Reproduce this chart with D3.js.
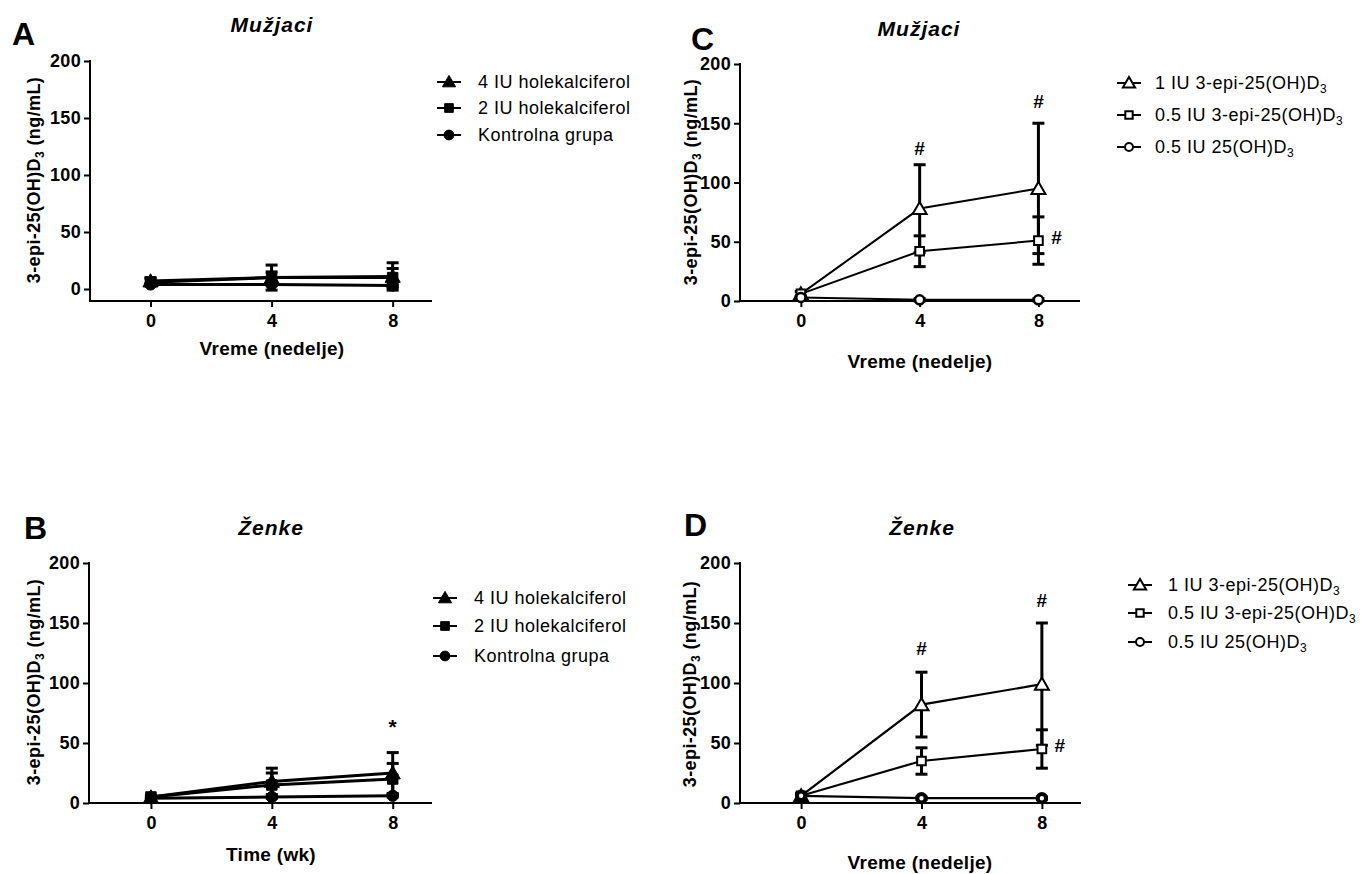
<!DOCTYPE html>
<html><head><meta charset="utf-8">
<script src="https://cdn.jsdelivr.net/npm/d3@7"></script>
<style>
body{margin:0;background:#fff}
svg{display:block}
text{font-family:"Liberation Sans",Arial,Helvetica,sans-serif;fill:#000}
</style>
</head><body>
<svg id="chart" width="1369" height="874"></svg>
<script>
// ---------- data ----------
const weeks = [0, 4, 8];
const xTickValues = [0, 4, 8];
const yTickValues = [0, 50, 100, 150, 200];

const legendHol = ["4 IU holekalciferol", "2 IU holekalciferol", "Kontrolna grupa"];
const legendEpi = ["1 IU 3-epi-25(OH)D_3", "0.5 IU 3-epi-25(OH)D_3", "0.5 IU 25(OH)D_3"];

// Panel A (Mužjaci, holekalciferol)
const a4IU = [7, 10, 11],  a4IUsd = [3, 11, 12];
const a2IU = [6, 10, 10],  a2IUsd = [3, 5, 8];
const aCtrl = [4, 4, 3],   aCtrlsd = [1, 1, 2];
// Panel B (Ženke, holekalciferol)
const b4IU = [5, 18, 25],  b4IUsd = [1, 11, 17];
const b2IU = [5, 15, 20],  b2IUsd = [1, 10, 13];
const bCtrl = [4, 5, 6],   bCtrlsd = [1, 1, 1];
// Panel C (Mužjaci, 3-epi)
const c1IU = [6, 78, 95],  c1IUsd = [2, 37, 55];
const c05epi = [6, 42, 51], c05episd = [2, 13, 20];
const c05d3 = [3, 1, 1],   c05d3sd = [1, 1, 1];
// Panel D (Ženke, 3-epi)
const d1IU = [6, 82, 99],  d1IUsd = [2, 27, 51];
const d05epi = [6, 35, 45], d05episd = [2, 11, 16];
const d05d3 = [6, 4, 4],   d05d3sd = [1, 1, 1];

// significance marks: week, value, label, side
const annotB = [{week: 8, value: 63, label: "*", side: "top"}];
const annotC = [{week: 4, value: 129, label: "#", side: "top"}, {week: 8, value: 169, label: "#", side: "top"}, {week: 8, value: 54, label: "#", side: "right"}];
const annotD = [{week: 4, value: 129, label: "#", side: "top"}, {week: 8, value: 169, label: "#", side: "top"}, {week: 8, value: 48, label: "#", side: "right"}];

// ---------- drawing ----------
const svg = d3.select("#chart");
const symbols = [d3.symbolTriangle, d3.symbolSquare, d3.symbolCircle];

function addSubText(sel, label, subSize) {
  const parts = label.split("_");
  sel.append("tspan").text(parts[0]);
  if (parts.length > 1) {
    sel.append("tspan").attr("dy", 4).attr("font-size", subSize).text(parts[1]);
  }
}

function panel(cfg) {
  const g = svg.append("g");
  const x = d3.scaleLinear().domain(cfg.xDomain).range([cfg.left, cfg.right]);
  const y = d3.scaleLinear().domain([0, 200]).range([cfg.y0, cfg.y200]);

  // y axis
  const yAx = g.append("g").attr("transform", `translate(${cfg.left},0)`)
    .call(d3.axisLeft(y).tickValues(yTickValues).tickSize(6).tickPadding(3).tickFormat(d3.format("d")));
  yAx.select(".domain").remove();
  yAx.selectAll(".tick line").attr("stroke", "#000").attr("stroke-width", 2);
  yAx.selectAll(".tick text").attr("font-size", 18).attr("font-weight", "bold")
    .attr("font-family", "Liberation Sans, Arial, sans-serif").attr("letter-spacing", 0.3);
  g.append("line").attr("x1", cfg.left).attr("x2", cfg.left)
    .attr("y1", y(200) - 1).attr("y2", cfg.xAxisY + 1).attr("stroke", "#000").attr("stroke-width", 2);

  // x axis
  const xAx = g.append("g").attr("transform", `translate(0,${cfg.xAxisY})`)
    .call(d3.axisBottom(x).tickValues(xTickValues).tickSize(6).tickPadding(7).tickFormat(d3.format("d")));
  xAx.select(".domain").attr("stroke", "#000").attr("stroke-width", 2)
    .attr("d", `M${cfg.left},0H${cfg.right}`);
  xAx.selectAll(".tick line").attr("stroke", "#000").attr("stroke-width", 2);
  xAx.selectAll(".tick text").attr("font-size", 18).attr("font-weight", "bold")
    .attr("font-family", "Liberation Sans, Arial, sans-serif");

  // titles
  g.append("text").attr("x", cfg.letterX).attr("y", cfg.letterY)
    .attr("font-size", 32).attr("font-weight", "bold").text(cfg.letter);
  g.append("text").attr("x", cfg.titleX).attr("y", cfg.titleY).attr("text-anchor", "middle")
    .attr("font-size", 21).attr("font-weight", "bold").attr("font-style", "italic")
    .attr("letter-spacing", 1).text(cfg.title);
  const yt = g.append("text").attr("transform", `translate(${cfg.yTitleX},${cfg.yTitleY}) rotate(-90)`)
    .attr("text-anchor", "middle").attr("font-size", 18).attr("font-weight", "bold")
    .attr("letter-spacing", 0.4);
  yt.append("tspan").text("3-epi-25(OH)D");
  yt.append("tspan").attr("dy", 4).attr("font-size", 12).text("3");
  yt.append("tspan").attr("dy", -4).text(" (ng/mL)");
  g.append("text").attr("x", cfg.xTitleX).attr("y", cfg.xTitleY).attr("text-anchor", "middle")
    .attr("font-size", 19).attr("font-weight", "bold").attr("letter-spacing", 0.3).text(cfg.xTitle);

  // series
  const line = d3.line().x(d => x(d.w)).y(d => y(d.v));
  cfg.series.forEach((s, i) => {
    const pts = weeks.map((w, k) => ({w, v: s.values[k], e: s.sd[k]}));
    const sg = g.append("g");
    sg.append("path").datum(pts).attr("d", line).attr("fill", "none")
      .attr("stroke", "#000").attr("stroke-width", cfg.lineW);
    pts.forEach(p => {
      if (p.e > 0) {
        sg.append("line").attr("x1", x(p.w)).attr("x2", x(p.w))
          .attr("y1", y(p.v - p.e)).attr("y2", y(p.v + p.e))
          .attr("stroke", "#000").attr("stroke-width", 3);
        [p.v - p.e, p.v + p.e].forEach(val => {
          sg.append("line").attr("x1", x(p.w) - 6).attr("x2", x(p.w) + 6)
            .attr("y1", y(val)).attr("y2", y(val)).attr("stroke", "#000").attr("stroke-width", 3);
        });
      }
    });
    sg.selectAll("path.m").data(pts).join("path").attr("class", "m")
      .attr("transform", d => `translate(${x(d.w)},${y(d.v) + (i === 0 ? 1.5 : 0)})`)
      .attr("d", d3.symbol().type(symbols[i]).size(cfg.symSize[i]))
      .attr("fill", cfg.open ? "#fff" : "#000").attr("stroke", "#000")
      .attr("stroke-width", cfg.open ? cfg.symStroke[i] : 1);
  });

  // annotations
  (cfg.annot || []).forEach(a => {
    const ax = x(a.week) + (a.side === "right" ? 18 : 0);
    g.append("text").attr("x", ax).attr("y", y(a.value) + 7).attr("text-anchor", "middle")
      .attr("font-size", a.label === "*" ? 21 : 19).attr("font-weight", "bold").text(a.label);
  });

  // legend
  cfg.legend.forEach((lab, i) => {
    const ly = cfg.legY[i];
    g.append("line").attr("x1", cfg.legX0).attr("x2", cfg.legX1).attr("y1", ly).attr("y2", ly)
      .attr("stroke", "#000").attr("stroke-width", 2);
    g.append("path").attr("transform", `translate(${(cfg.legX0 + cfg.legX1) / 2},${ly + (i === 0 ? 1 : 0)})`)
      .attr("d", d3.symbol().type(symbols[i]).size(cfg.legSym[i]))
      .attr("fill", cfg.open ? "#fff" : "#000").attr("stroke", "#000").attr("stroke-width", cfg.open ? 2 : 1);
    const t = g.append("text").attr("x", cfg.legTextX).attr("y", ly + 6)
      .attr("font-size", 18).attr("letter-spacing", 0.5);
    addSubText(t, lab, 12);
  });
}

panel({
  letter: "A", letterX: 12, letterY: 45, title: "Mužjaci", titleX: 272, titleY: 32,
  left: 90, right: 432, xDomain: [-2, 9.3], y0: 289, y200: 61, xAxisY: 301,
  yTitleX: 40, yTitleY: 180, xTitle: "Vreme (nedelje)", xTitleX: 272, xTitleY: 355,
  series: [{values: a4IU, sd: a4IUsd}, {values: a2IU, sd: a2IUsd}, {values: aCtrl, sd: aCtrlsd}],
  open: false, lineW: 3, symSize: [100, 110, 100], legSym: [75, 75, 75],
  legend: legendHol, legX0: 437, legX1: 461, legTextX: 478, legY: [82, 108, 135]
});
panel({
  letter: "B", letterX: 24, letterY: 539, title: "Ženke", titleX: 271, titleY: 535,
  left: 89, right: 432, xDomain: [-2.05, 9.3], y0: 803, y200: 563, xAxisY: 803,
  yTitleX: 40, yTitleY: 682, xTitle: "Time (wk)", xTitleX: 271, xTitleY: 861,
  series: [{values: b4IU, sd: b4IUsd}, {values: b2IU, sd: b2IUsd}, {values: bCtrl, sd: bCtrlsd}],
  open: false, lineW: 3, symSize: [100, 110, 100], legSym: [75, 75, 75], annot: annotB,
  legend: legendHol, legX0: 433, legX1: 457, legTextX: 474, legY: [598, 626, 656]
});
panel({
  letter: "C", letterX: 691, letterY: 50, title: "Mužjaci", titleX: 919, titleY: 36,
  left: 740, right: 1080, xDomain: [-2.05, 9.4], y0: 301, y200: 64, xAxisY: 301,
  yTitleX: 697, yTitleY: 182, xTitle: "Vreme (nedelje)", xTitleX: 920, xTitleY: 368,
  series: [{values: c1IU, sd: c1IUsd}, {values: c05epi, sd: c05episd}, {values: c05d3, sd: c05d3sd}],
  open: true, lineW: 2, symSize: [85, 75, 65], symStroke: [2, 2, 2.5], legSym: [65, 55, 50], annot: annotC,
  legend: legendEpi, legX0: 1117, legX1: 1141, legTextX: 1155, legY: [83, 115, 147]
});
panel({
  letter: "D", letterX: 684, letterY: 536, title: "Ženke", titleX: 922, titleY: 535,
  left: 740, right: 1081, xDomain: [-2.03, 9.3], y0: 803, y200: 563, xAxisY: 803,
  yTitleX: 696, yTitleY: 684, xTitle: "Vreme (nedelje)", xTitleX: 920, xTitleY: 869,
  series: [{values: d1IU, sd: d1IUsd}, {values: d05epi, sd: d05episd}, {values: d05d3, sd: d05d3sd}],
  open: true, lineW: 2.2, symSize: [85, 75, 55], symStroke: [2, 2, 4], legSym: [65, 55, 50], annot: annotD,
  legend: legendEpi, legX0: 1128, legX1: 1152, legTextX: 1168, legY: [585, 613, 642]
});
</script>
</body></html>
